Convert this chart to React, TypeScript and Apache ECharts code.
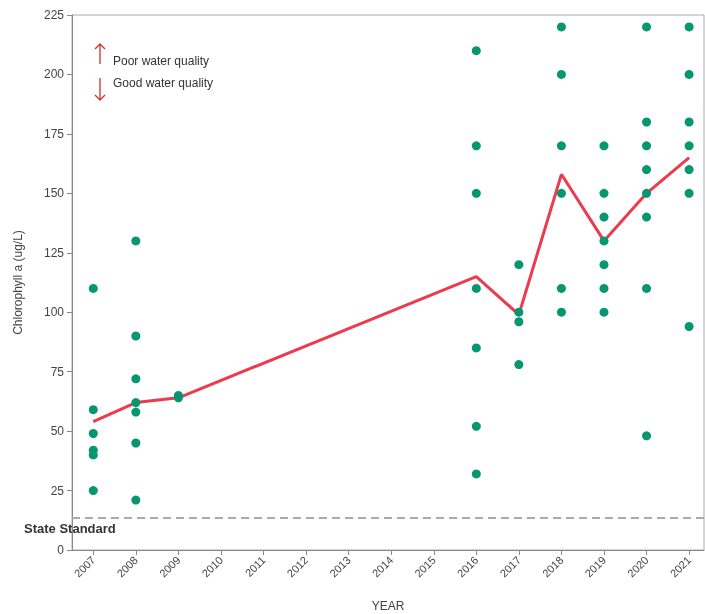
import React, { useEffect, useRef } from "react";
import * as echarts from "echarts";

const years = [2007, 2008, 2009, 2016, 2017, 2018, 2019, 2020, 2021];
const samples: number[][] = [
  [110, 59, 49, 42, 40, 25],
  [130, 90, 72, 62, 58, 45, 21],
  [65, 64],
  [210, 170, 150, 110, 85, 52, 32],
  [120, 100, 96, 78],
  [220, 200, 170, 150, 110, 100],
  [170, 150, 140, 130, 120, 110, 100],
  [220, 180, 170, 160, 150, 140, 110, 48],
  [220, 200, 180, 170, 160, 150, 94],
];
const means = [54, 62, 64, 115, 99, 158, 130, 150, 165];
const stateStandard = 13.5;
const yTicks = [0, 25, 50, 75, 100, 125, 150, 175, 200, 225];
const tickYears = Array.from({ length: 15 }, (_, i) => 2007 + i);

const font = "'Liberation Sans', sans-serif";

export default function App() {
  const ref = useRef<HTMLDivElement>(null);
  useEffect(() => {
    const chart = echarts.init(ref.current!, null, { renderer: "svg" });
    const pts: number[][] = [];
    years.forEach((y, i) => samples[i].forEach((v) => pts.push([y, v])));
    chart.setOption({
      animation: false,
      grid: { left: 72, right: 1, top: 15, bottom: 64, show: true, borderColor: "#aaa", borderWidth: 1, outerBoundsMode: "none", containLabel: false },
      xAxis: {
        type: "value", min: 2006.5, max: 2021.35, interval: 1,
        name: "YEAR", nameLocation: "middle", nameGap: 50,
        nameTextStyle: { color: "#444", fontSize: 12, fontFamily: font },
        axisLabel: {
          rotate: 45, color: "#444", fontSize: 11, fontFamily: font,
          formatter: (v: number) => String(v),
          customValues: tickYears,
        },
        axisTick: { show: true, customValues: tickYears, lineStyle: { color: "#888" } },
        axisLine: { lineStyle: { color: "#888" } },
        splitLine: { show: false },
      },
      yAxis: {
        type: "value", min: 0, max: 225, interval: 25,
        name: "Chlorophyll a (ug/L)", nameLocation: "middle", nameGap: 48,
        nameTextStyle: { color: "#444", fontSize: 12, fontFamily: font },
        axisLabel: { color: "#444", fontSize: 12, fontFamily: font, customValues: yTicks },
        axisTick: { show: true, lineStyle: { color: "#888" } },
        axisLine: { show: true, lineStyle: { color: "#888" } },
        splitLine: { show: false },
      },
      series: [
        {
          type: "line", data: years.map((y, i) => [y, means[i]]), symbol: "none",
          lineStyle: { color: "#ec3a4f", width: 3 }, z: 2,
          markLine: {
            silent: true, symbol: "none", label: { show: false },
            lineStyle: { color: "#aaa", type: [8, 5], width: 2 },
            data: [{ yAxis: stateStandard }],
          },
        },
        {
          type: "scatter", data: pts, symbolSize: 9,
          itemStyle: { color: "#079770", opacity: 1 }, z: 3,
        },
      ],
      graphic: [
        { type: "line", shape: { x1: 100, y1: 44, x2: 100, y2: 64 }, style: { stroke: "#d62b2b", lineWidth: 1.3 } },
        { type: "polyline", shape: { points: [[95, 49], [100, 44], [105, 49]] }, style: { stroke: "#d62b2b", lineWidth: 1.3, fill: "none" } },
        { type: "line", shape: { x1: 100, y1: 78, x2: 100, y2: 100 }, style: { stroke: "#d62b2b", lineWidth: 1.3 } },
        { type: "polyline", shape: { points: [[95, 95], [100, 100], [105, 95]] }, style: { stroke: "#d62b2b", lineWidth: 1.3, fill: "none" } },
        { type: "text", left: 113, top: 55, style: { text: "Poor water quality", fill: "#333", font: `12px ${font}` } },
        { type: "text", left: 113, top: 77, style: { text: "Good water quality", fill: "#333", font: `12px ${font}` } },
        { type: "text", left: 24, top: 522, style: { text: "State Standard", fill: "#333", font: `bold 13px ${font}` } },
      ],
    });
    return () => chart.dispose();
  }, []);
  return <div ref={ref} style={{ position: "fixed", left: 0, top: 0, width: 705, height: 614 }} />;
}
